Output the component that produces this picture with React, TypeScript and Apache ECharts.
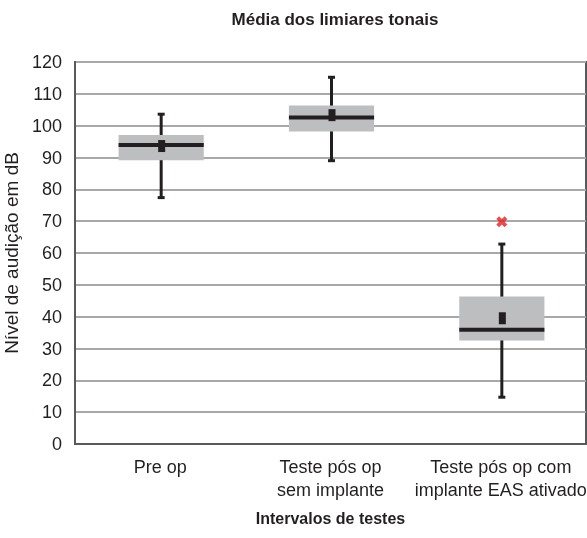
import React, { useEffect, useRef } from "react";
import * as echarts from "echarts";

const categories = [
  "Pre op",
  "Teste pós op\nsem implante",
  "Teste pós op com\nimplante EAS ativado",
];
const whiskerLow = [77.4, 89.0, 14.7];
const q1 = [89.1, 98.2, 32.5];
const medians = [93.9, 102.6, 35.9];
const q3 = [97.1, 106.3, 46.3];
const whiskerHigh = [103.6, 115.2, 62.8];
const means = [93.6, 103.3, 39.5];
const outliers: [number, number][] = [[2, 69.8]];
const yMin = 0;
const yMax = 120;
const yInterval = 10;

const FONT = "'Liberation Sans', Arial, Helvetica, sans-serif";
const DARK = "#231f20";

export default function App() {
  const ref = useRef<HTMLDivElement>(null);
  useEffect(() => {
    if (!ref.current) return;
    const chart = echarts.init(ref.current, undefined, { renderer: "svg" });
    const boxData = categories.map((_, i) => [
      i,
      whiskerLow[i],
      q1[i],
      medians[i],
      q3[i],
      whiskerHigh[i],
      means[i],
    ]);
    const renderItem = (params: any, api: any) => {
      const i = api.value(0);
      const low = api.coord([i, api.value(1)]);
      const p1 = api.coord([i, api.value(2)]);
      const med = api.coord([i, api.value(3)]);
      const p3 = api.coord([i, api.value(4)]);
      const high = api.coord([i, api.value(5)]);
      const mean = api.coord([i, api.value(6)]);
      const band = api.size([1, 0])[0];
      const bw = band * 0.5;
      const x = low[0] + 1;
      return {
        type: "group",
        children: [
          {
            type: "line",
            shape: { x1: x, y1: high[1], x2: x, y2: low[1] },
            style: { stroke: DARK, lineWidth: 3 },
          },
          {
            type: "rect",
            shape: { x: x - 3.5, y: high[1] - 1.5, width: 7, height: 3 },
            style: { fill: DARK },
          },
          {
            type: "rect",
            shape: { x: x - 3.5, y: low[1] - 1.5, width: 7, height: 3 },
            style: { fill: DARK },
          },
          {
            type: "rect",
            shape: { x: x - bw / 2, y: p3[1], width: bw, height: p1[1] - p3[1] },
            style: { fill: "#bcbec0" },
          },
          {
            type: "rect",
            shape: { x: x - bw / 2, y: med[1] - 2, width: bw, height: 4 },
            style: { fill: DARK },
          },
          {
            type: "rect",
            shape: { x: x - 3, y: mean[1] - 6, width: 7, height: 12 },
            style: { fill: DARK },
          },
        ],
      };
    };
    chart.setOption({
      animation: false,
      title: {
        text: "Média dos limiares tonais",
        left: 330,
        top: 6,
        textAlign: "center",
        textStyle: { fontFamily: FONT, fontSize: 17, fontWeight: "bold", color: DARK },
      },
      grid: {
        left: 75,
        right: 1,
        top: 62,
        bottom: 94,
        containLabel: false,
        outerBoundsMode: "none",
        show: true,
        borderColor: "#58595b",
        borderWidth: 2,
        backgroundColor: "transparent",
      },
      xAxis: {
        type: "category",
        data: categories,
        boundaryGap: true,
        axisTick: { show: false },
        axisLine: { show: true, lineStyle: { color: "#58595b", width: 2 } },
        axisLabel: {
          interval: 0,
          fontFamily: FONT,
          fontSize: 18,
          lineHeight: 23,
          color: DARK,
          margin: 11,
        },
        splitLine: { show: false },
        name: "Intervalos de testes",
        nameLocation: "middle",
        nameGap: 66,
        nameTextStyle: { fontFamily: FONT, fontSize: 16, fontWeight: "bold", color: DARK },
      },
      yAxis: {
        type: "value",
        min: yMin,
        max: yMax,
        interval: yInterval,
        axisTick: { show: false },
        axisLine: { show: true, lineStyle: { color: "#58595b", width: 2 } },
        axisLabel: { fontFamily: FONT, fontSize: 18, color: DARK, margin: 13 },
        splitLine: { show: true, lineStyle: { color: "#a8a8a8", width: 2 } },
        name: "Nível de audição em dB",
        nameLocation: "middle",
        nameGap: 44,
        nameRotate: 90,
        nameTextStyle: { fontFamily: FONT, fontSize: 19, color: DARK },
      },
      series: [
        {
          type: "custom",
          renderItem,
          data: boxData,
          encode: { x: 0, y: [1, 2, 3, 4, 5, 6] },
          z: 3,
        },
        {
          type: "scatter",
          data: outliers,
          symbol:
            "path://M2.5,0 L5,2.5 L7.5,0 L10,2.5 L7.5,5 L10,7.5 L7.5,10 L5,7.5 L2.5,10 L0,7.5 L2.5,5 L0,2.5 Z",
          symbolSize: 11,
          symbolOffset: [1, 0],
          itemStyle: { color: "#e0201f" },
          z: 4,
        },
      ],
    });
    return () => chart.dispose();
  }, []);
  return (
    <div
      ref={ref}
      style={{ position: "fixed", left: 0, top: 0, width: 587, height: 538 }}
    />
  );
}
